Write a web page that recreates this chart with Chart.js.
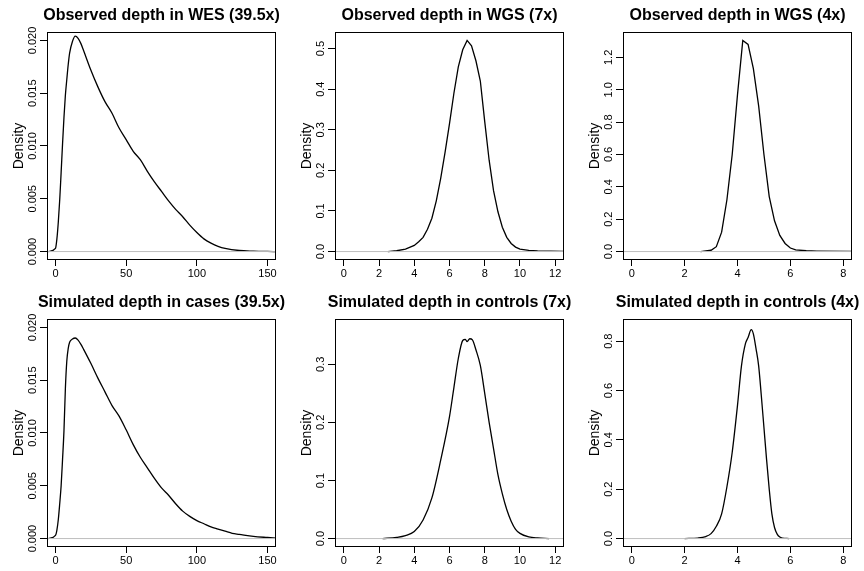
<!DOCTYPE html>
<html>
<head>
<meta charset="utf-8">
<script src="https://cdn.jsdelivr.net/npm/chart.js@4.4.1/dist/chart.umd.min.js"></script>
<style>
html, body { margin: 0; padding: 0; background: #fff; overflow: hidden; }
#wrap { position: relative; width: 864px; height: 571px; overflow: hidden; }
#wrap canvas { position: absolute; }
</style>
</head>
<body>
<div id="wrap"></div>
<script>
// panel titles
var titles = [
    'Observed depth in WES (39.5x)',
    'Observed depth in WGS (7x)',
    'Observed depth in WGS (4x)',
    'Simulated depth in cases (39.5x)',
    'Simulated depth in controls (7x)',
    'Simulated depth in controls (4x)'
];

// density curves
var wesObsX = [-5, 0, 1, 2, 3, 4, 5, 6, 7, 8, 9, 10, 12, 14, 16, 18, 20, 25, 30, 35, 40, 45, 50, 55, 60, 65, 70, 75, 80, 85, 90, 95, 100, 105, 110, 115, 120, 130, 140, 150, 156];
var wesObsY = [0, 0.0003, 0.0012, 0.0028, 0.0049, 0.0075, 0.0102, 0.0127, 0.0148, 0.0163, 0.0177, 0.0188, 0.0199, 0.0204, 0.0202, 0.0197, 0.0190, 0.0172, 0.0156, 0.0142, 0.0131, 0.0117, 0.0106, 0.0095, 0.0087, 0.0076, 0.0066, 0.0057, 0.0048, 0.0040, 0.0033, 0.0025, 0.0018, 0.0012, 0.0008, 0.0005, 0.0003, 0.0001, 0.00004, 0.00001, 0];

var wgs7ObsX = [2.5, 3.0, 3.5, 4.0, 4.25, 4.5, 4.75, 5.0, 5.25, 5.5, 5.75, 6.0, 6.25, 6.5, 6.75, 7.0, 7.25, 7.5, 7.75, 8.0, 8.25, 8.5, 8.75, 9.0, 9.25, 9.5, 9.75, 10.0, 10.5, 11.0, 12.5];
var wgs7ObsY = [0, 0.002, 0.006, 0.015, 0.024, 0.035, 0.055, 0.082, 0.125, 0.18, 0.245, 0.315, 0.39, 0.455, 0.497, 0.52, 0.507, 0.47, 0.42, 0.32, 0.225, 0.15, 0.098, 0.06, 0.035, 0.02, 0.011, 0.006, 0.003, 0.0015, 0.0005];

var wgs4ObsX = [2.6, 3.0, 3.2, 3.4, 3.6, 3.8, 4.0, 4.2, 4.4, 4.6, 4.8, 5.0, 5.2, 5.4, 5.6, 5.8, 6.0, 6.2, 6.6, 7.0, 8.4];
var wgs4ObsY = [0, 0.008, 0.03, 0.12, 0.32, 0.6, 0.97, 1.305, 1.28, 1.13, 0.9, 0.6, 0.34, 0.19, 0.1, 0.05, 0.022, 0.01, 0.005, 0.003, 0.001];

var casesSimX = [-5, 0, 1, 2, 3, 4, 5, 6, 7, 8, 9, 10, 12, 14, 16, 18, 20, 25, 30, 35, 40, 45, 50, 55, 60, 65, 70, 75, 80, 85, 90, 95, 100, 105, 110, 115, 120, 125, 130, 140, 150, 156];
var casesSimY = [0, 0.0003, 0.0008, 0.0018, 0.0033, 0.0050, 0.0075, 0.0102, 0.0142, 0.0168, 0.0180, 0.0186, 0.0189, 0.0190, 0.0188, 0.0184, 0.0179, 0.0166, 0.0152, 0.0139, 0.0126, 0.0116, 0.0103, 0.0089, 0.0077, 0.0067, 0.0057, 0.0048, 0.0041, 0.0033, 0.0026, 0.0021, 0.0017, 0.0014, 0.0011, 0.0009, 0.0007, 0.0005, 0.0004, 0.0002, 0.0001, 0.00005];

var ctrl7SimX = [2.2, 3.0, 3.5, 4.0, 4.5, 5.0, 5.5, 6.0, 6.25, 6.5, 6.75, 6.9, 7.0, 7.15, 7.3, 7.5, 7.75, 8.0, 8.25, 8.5, 8.75, 9.0, 9.25, 9.5, 9.75, 10.0, 10.5, 11.0, 11.65];
var ctrl7SimY = [0, 0.002, 0.005, 0.012, 0.032, 0.07, 0.135, 0.21, 0.26, 0.31, 0.341, 0.343, 0.339, 0.344, 0.342, 0.325, 0.298, 0.25, 0.2, 0.155, 0.11, 0.077, 0.05, 0.03, 0.016, 0.009, 0.003, 0.001, 0];

var ctrl4SimX = [2.0, 2.5, 2.8, 3.0, 3.2, 3.4, 3.6, 3.8, 4.0, 4.15, 4.3, 4.4, 4.52, 4.6, 4.7, 4.8, 4.9, 5.0, 5.1, 5.2, 5.3, 5.4, 5.5, 5.6, 5.7, 5.95];
var ctrl4SimY = [0, 0.002, 0.008, 0.02, 0.05, 0.1, 0.21, 0.35, 0.54, 0.7, 0.79, 0.815, 0.847, 0.83, 0.77, 0.7, 0.58, 0.45, 0.32, 0.2, 0.1, 0.045, 0.018, 0.006, 0.002, 0];

// tick values
var xTicksWes = [0, 50, 100, 150];
var xTicks7x = [0, 2, 4, 6, 8, 10, 12];
var xTicks4x = [0, 2, 4, 6, 8];
var yTicksWes = [0, 0.005, 0.010, 0.015, 0.020];
var yTicksObs7x = [0, 0.1, 0.2, 0.3, 0.4, 0.5];
var yTicksObs4x = [0, 0.2, 0.4, 0.6, 0.8, 1.0, 1.2];
var yTicksSim7x = [0, 0.1, 0.2, 0.3];
var yTicksSim4x = [0, 0.2, 0.4, 0.6, 0.8];

// axis limits
var xLimWes = [-6, 156];
var xLim7x = [-0.5, 12.5];
var xLim4x = [-0.33, 8.33];
var yLimWes = [-0.0008, 0.0208];
var yLimObs7x = [-0.0208, 0.5408];
var yLimObs4x = [-0.0522, 1.357];
var yLimSim7x = [-0.0145, 0.378];
var yLimSim4x = [-0.0342, 0.890];

Chart.defaults.font.family = "'Liberation Sans', Arial, Helvetica, sans-serif";
Chart.defaults.color = '#000';

var panels = [
    { x: wesObsX, y: wesObsY, xLim: xLimWes, yLim: yLimWes, xTicks: xTicksWes, yTicks: yTicksWes, dec: 3, smooth: true },
    { x: wgs7ObsX, y: wgs7ObsY, xLim: xLim7x, yLim: yLimObs7x, xTicks: xTicks7x, yTicks: yTicksObs7x, dec: 1, smooth: false },
    { x: wgs4ObsX, y: wgs4ObsY, xLim: xLim4x, yLim: yLimObs4x, xTicks: xTicks4x, yTicks: yTicksObs4x, dec: 1, smooth: false },
    { x: casesSimX, y: casesSimY, xLim: xLimWes, yLim: yLimWes, xTicks: xTicksWes, yTicks: yTicksWes, dec: 3, smooth: true },
    { x: ctrl7SimX, y: ctrl7SimY, xLim: xLim7x, yLim: yLimSim7x, xTicks: xTicks7x, yTicks: yTicksSim7x, dec: 1, smooth: true },
    { x: ctrl4SimX, y: ctrl4SimY, xLim: xLim4x, yLim: yLimSim4x, xTicks: xTicks4x, yTicks: yTicksSim4x, dec: 1, smooth: true }
];

// R-like box around the plot region and rotated y tick labels
var rBox = {
    id: 'rBox',
    afterDraw: function (chart) {
        var ctx = chart.ctx, a = chart.chartArea, ys = chart.scales.y;
        ctx.save();
        ctx.strokeStyle = '#000';
        ctx.lineWidth = 1;
        ctx.strokeRect(Math.round(a.left) + 0.5, Math.round(a.top) + 0.5,
            Math.round(a.right - a.left) - 1, Math.round(a.bottom - a.top) - 1);
        ctx.fillStyle = '#000';
        ctx.font = "11px 'Liberation Sans', Arial, sans-serif";
        ctx.textAlign = 'center';
        ctx.textBaseline = 'middle';
        ys.ticks.forEach(function (t) {
            ctx.save();
            ctx.translate(a.left - 14, ys.getPixelForValue(t.value));
            ctx.rotate(-Math.PI / 2);
            ctx.fillText(t.label, 0, 0);
            ctx.restore();
        });
        ctx.restore();
    }
};

var wrap = document.getElementById('wrap');

panels.forEach(function (p, i) {
    var col = i % 3, row = Math.floor(i / 3);
    var W = 323, H = row ? 284 : 285;
    var c = document.createElement('canvas');
    c.width = W;
    c.height = H;
    c.style.left = (col * 288) + 'px';
    c.style.top = (row ? 287 : 0) + 'px';
    wrap.appendChild(c);

    var pts = p.x.map(function (v, k) { return { x: v, y: p.y[k] }; });

    new Chart(c, {
        type: 'line',
        data: {
            datasets: [{
                // zero line drawn over the curve
                data: [{ x: p.xLim[0], y: 0 }, { x: p.xLim[1], y: 0 }],
                borderColor: '#bebebe',
                borderWidth: 1,
                pointRadius: 0
            }, {
                data: pts,
                borderColor: '#000',
                borderWidth: 1.3,
                pointRadius: 0,
                tension: 0,
                cubicInterpolationMode: p.smooth ? 'monotone' : 'default'
            }]
        },
        options: {
            responsive: false,
            animation: false,
            events: [],
            layout: { padding: 0 },
            plugins: {
                legend: { display: false },
                tooltip: { enabled: false },
                title: {
                    display: true,
                    text: titles[i],
                    color: '#000',
                    font: { size: 16, weight: 'bold' },
                    padding: { top: 6.4, bottom: 6.4 }
                }
            },
            scales: {
                x: {
                    type: 'linear',
                    min: p.xLim[0],
                    max: p.xLim[1],
                    afterBuildTicks: function (s) { s.ticks = p.xTicks.map(function (v) { return { value: v }; }); },
                    afterFit: function (s) { s.height = H - 260; },
                    grid: { drawOnChartArea: false, color: '#000', tickLength: 6 },
                    border: { display: false },
                    ticks: {
                        color: '#000', font: { size: 11 }, padding: 1,
                        maxRotation: 0, autoSkip: false,
                        callback: function (v) { return String(v); }
                    }
                },
                y: {
                    type: 'linear',
                    min: p.yLim[0],
                    max: p.yLim[1],
                    afterBuildTicks: function (s) { s.ticks = p.yTicks.map(function (v) { return { value: v }; }); },
                    afterFit: function (s) { s.width = 47; },
                    grid: { drawOnChartArea: false, color: '#000', tickLength: 7 },
                    border: { display: false },
                    ticks: {
                        display: false,
                        callback: function (v) { return v.toFixed(p.dec); }
                    },
                    title: {
                        display: true,
                        text: 'Density',
                        color: '#000',
                        font: { size: 14 },
                        padding: { top: 10.6, bottom: 0 }
                    }
                },
                // empty right margin so the title centres over the plot box
                yPad: {
                    type: 'linear',
                    position: 'right',
                    afterFit: function (s) { s.width = W - 276; },
                    grid: { display: false },
                    border: { display: false },
                    ticks: { display: false }
                }
            }
        },
        plugins: [rBox]
    });
});
</script>
</body>
</html>
